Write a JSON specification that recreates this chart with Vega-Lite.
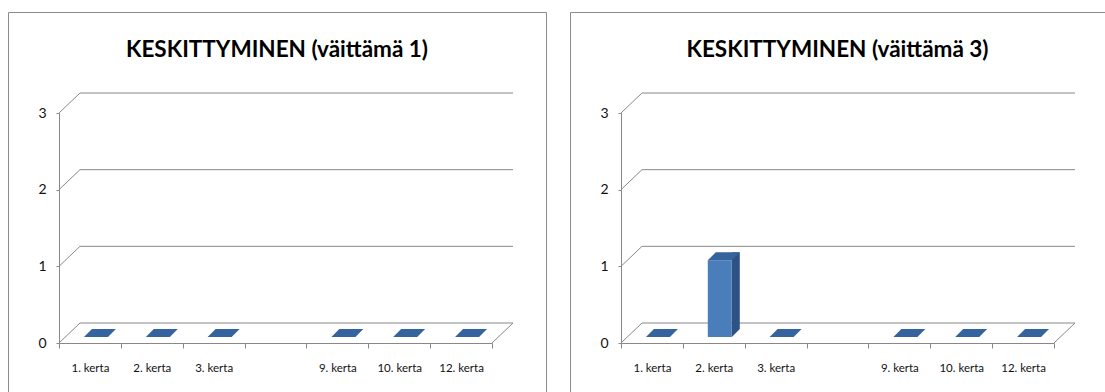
{
  "$schema": "https://vega.github.io/schema/vega-lite/v6.json",
  "padding": {"left": 7, "top": 11, "right": 0, "bottom": 0},
  "bounds": "flush",
  "spacing": 24,
  "datasets": {
    "vaittama1": [
      {"kerta": "1. kerta", "arvo": 0},
      {"kerta": "2. kerta", "arvo": 0},
      {"kerta": "3. kerta", "arvo": 0},
      {"kerta": "9. kerta", "arvo": 0},
      {"kerta": "10. kerta", "arvo": 0},
      {"kerta": "12. kerta", "arvo": 0}
    ],
    "vaittama3": [
      {"kerta": "1. kerta", "arvo": 0},
      {"kerta": "2. kerta", "arvo": 1},
      {"kerta": "3. kerta", "arvo": 0},
      {"kerta": "9. kerta", "arvo": 0},
      {"kerta": "10. kerta", "arvo": 0},
      {"kerta": "12. kerta", "arvo": 0}
    ],
    "tasot": [{"taso": 0}, {"taso": 1}, {"taso": 2}, {"taso": 3}],
    "yksi": [{"n": 1}]
  },
  "hconcat": [
    {
      "width": 538,
      "height": 380,
      "title": {"text": "KESKITTYMINEN (väittämä 1)"},
      "data": {"name": "vaittama1"},
      "layer": [
        {
          "data": {"name": "tasot"},
          "mark": {"type": "rule", "color": "#888888", "strokeWidth": 1, "xOffset": 21, "x2Offset": 21, "yOffset": -20},
          "encoding": {
            "x": {
              "datum": "1. kerta", "type": "nominal", "bandPosition": 0,
              "scale": {"type": "band", "domain": ["1. kerta", "2. kerta", "3. kerta", "", "9. kerta", "10. kerta", "12. kerta"], "range": [51, 484], "paddingInner": 0, "paddingOuter": 0},
              "axis": {"orient": "bottom", "offset": -49, "tickBand": "extent", "tickSize": 5, "labelPadding": 14, "labelAngle": 0, "title": null, "grid": false}
            },
            "x2": {"datum": "12. kerta", "bandPosition": 1},
            "y": {
              "field": "taso", "type": "quantitative",
              "scale": {"domain": [0, 3], "range": [331, 101], "nice": false, "zero": true},
              "axis": {"orient": "left", "offset": -51, "values": [0, 1, 2, 3], "format": "d", "tickSize": 3, "labelPadding": 10, "title": null, "grid": false}
            }
          }
        },
        {
          "data": {"name": "tasot"},
          "mark": {"type": "rule", "color": "#888888", "strokeWidth": 1, "x2Offset": 21, "y2Offset": -20},
          "encoding": {
            "x": {"datum": "1. kerta", "type": "nominal", "bandPosition": 0},
            "x2": {"datum": "1. kerta", "bandPosition": 0},
            "y": {"field": "taso", "type": "quantitative"},
            "y2": {"field": "taso"}
          }
        },
        {
          "data": {"name": "yksi"},
          "mark": {"type": "rule", "color": "#888888", "strokeWidth": 1, "x2Offset": 21, "y2Offset": -20},
          "encoding": {
            "x": {"datum": "12. kerta", "type": "nominal", "bandPosition": 1},
            "x2": {"datum": "12. kerta", "bandPosition": 1},
            "y": {"datum": 0, "type": "quantitative"},
            "y2": {"datum": 0}
          }
        },
        {
          "transform": [{"filter": "datum.arvo > 0"}],
          "mark": {"type": "rule", "color": "#2D5283", "strokeWidth": 8, "xOffset": 22, "yOffset": -14, "y2Offset": -14},
          "encoding": {
            "x": {"field": "kerta", "type": "nominal"},
            "y": {"field": "arvo", "type": "quantitative"},
            "y2": {"datum": 0}
          }
        },
        {
          "transform": [{"filter": "datum.arvo > 0"}],
          "mark": {"type": "point", "shape": "M-1,-1L-1,1L1,-1Z", "size": 64, "filled": true, "opacity": 1, "strokeWidth": 0, "color": "#2D5283", "xOffset": 22, "yOffset": -10},
          "encoding": {
            "x": {"field": "kerta", "type": "nominal"},
            "y": {"datum": 0, "type": "quantitative"}
          }
        },
        {
          "transform": [{"filter": "datum.arvo > 0"}],
          "mark": {"type": "rule", "color": "#4A7EBB", "strokeWidth": 24, "xOffset": 6, "yOffset": -6, "y2Offset": -6},
          "encoding": {
            "x": {"field": "kerta", "type": "nominal"},
            "y": {"field": "arvo", "type": "quantitative"},
            "y2": {"datum": 0}
          }
        },
        {
          "mark": {"type": "point", "shape": "M-1,0.25L0.5,0.25L1,-0.25L-0.5,-0.25Z", "size": 1024, "filled": true, "opacity": 1, "strokeWidth": 0, "color": "#35639D", "xOffset": 10, "yOffset": -10},
          "encoding": {
            "x": {"field": "kerta", "type": "nominal"},
            "y": {"field": "arvo", "type": "quantitative"}
          }
        }
      ]
    },
    {
      "width": 535,
      "height": 380,
      "title": {"text": "KESKITTYMINEN (väittämä 3)"},
      "data": {"name": "vaittama3"},
      "layer": [
        {
          "data": {"name": "tasot"},
          "mark": {"type": "rule", "color": "#888888", "strokeWidth": 1, "xOffset": 21, "x2Offset": 21, "yOffset": -20},
          "encoding": {
            "x": {
              "datum": "1. kerta", "type": "nominal", "bandPosition": 0,
              "scale": {"type": "band", "domain": ["1. kerta", "2. kerta", "3. kerta", "", "9. kerta", "10. kerta", "12. kerta"], "range": [51, 484], "paddingInner": 0, "paddingOuter": 0},
              "axis": {"orient": "bottom", "offset": -49, "tickBand": "extent", "tickSize": 5, "labelPadding": 14, "labelAngle": 0, "title": null, "grid": false}
            },
            "x2": {"datum": "12. kerta", "bandPosition": 1},
            "y": {
              "field": "taso", "type": "quantitative",
              "scale": {"domain": [0, 3], "range": [331, 101], "nice": false, "zero": true},
              "axis": {"orient": "left", "offset": -51, "values": [0, 1, 2, 3], "format": "d", "tickSize": 3, "labelPadding": 10, "title": null, "grid": false}
            }
          }
        },
        {
          "data": {"name": "tasot"},
          "mark": {"type": "rule", "color": "#888888", "strokeWidth": 1, "x2Offset": 21, "y2Offset": -20},
          "encoding": {
            "x": {"datum": "1. kerta", "type": "nominal", "bandPosition": 0},
            "x2": {"datum": "1. kerta", "bandPosition": 0},
            "y": {"field": "taso", "type": "quantitative"},
            "y2": {"field": "taso"}
          }
        },
        {
          "data": {"name": "yksi"},
          "mark": {"type": "rule", "color": "#888888", "strokeWidth": 1, "x2Offset": 21, "y2Offset": -20},
          "encoding": {
            "x": {"datum": "12. kerta", "type": "nominal", "bandPosition": 1},
            "x2": {"datum": "12. kerta", "bandPosition": 1},
            "y": {"datum": 0, "type": "quantitative"},
            "y2": {"datum": 0}
          }
        },
        {
          "transform": [{"filter": "datum.arvo > 0"}],
          "mark": {"type": "rule", "color": "#2D5283", "strokeWidth": 8, "xOffset": 22, "yOffset": -14, "y2Offset": -14},
          "encoding": {
            "x": {"field": "kerta", "type": "nominal"},
            "y": {"field": "arvo", "type": "quantitative"},
            "y2": {"datum": 0}
          }
        },
        {
          "transform": [{"filter": "datum.arvo > 0"}],
          "mark": {"type": "point", "shape": "M-1,-1L-1,1L1,-1Z", "size": 64, "filled": true, "opacity": 1, "strokeWidth": 0, "color": "#2D5283", "xOffset": 22, "yOffset": -10},
          "encoding": {
            "x": {"field": "kerta", "type": "nominal"},
            "y": {"datum": 0, "type": "quantitative"}
          }
        },
        {
          "transform": [{"filter": "datum.arvo > 0"}],
          "mark": {"type": "rule", "color": "#4A7EBB", "strokeWidth": 24, "xOffset": 6, "yOffset": -6, "y2Offset": -6},
          "encoding": {
            "x": {"field": "kerta", "type": "nominal"},
            "y": {"field": "arvo", "type": "quantitative"},
            "y2": {"datum": 0}
          }
        },
        {
          "mark": {"type": "point", "shape": "M-1,0.25L0.5,0.25L1,-0.25L-0.5,-0.25Z", "size": 1024, "filled": true, "opacity": 1, "strokeWidth": 0, "color": "#35639D", "xOffset": 10, "yOffset": -10},
          "encoding": {
            "x": {"field": "kerta", "type": "nominal"},
            "y": {"field": "arvo", "type": "quantitative"}
          }
        }
      ]
    }
  ],
  "config": {
    "view": {"stroke": "#8c8c8c", "strokeWidth": 1},
    "title": {"font": "Lato", "fontSize": 22.5, "fontWeight": "bold", "color": "#000000", "anchor": "middle", "baseline": "alphabetic", "offset": -49},
    "axis": {
      "domainColor": "#888888", "tickColor": "#888888", "domainWidth": 1, "tickWidth": 1,
      "labelFont": "Lato", "labelColor": "#111111"
    },
    "axisX": {"labelFontSize": 11.5},
    "axisY": {"labelFontSize": 14}
  }
}
